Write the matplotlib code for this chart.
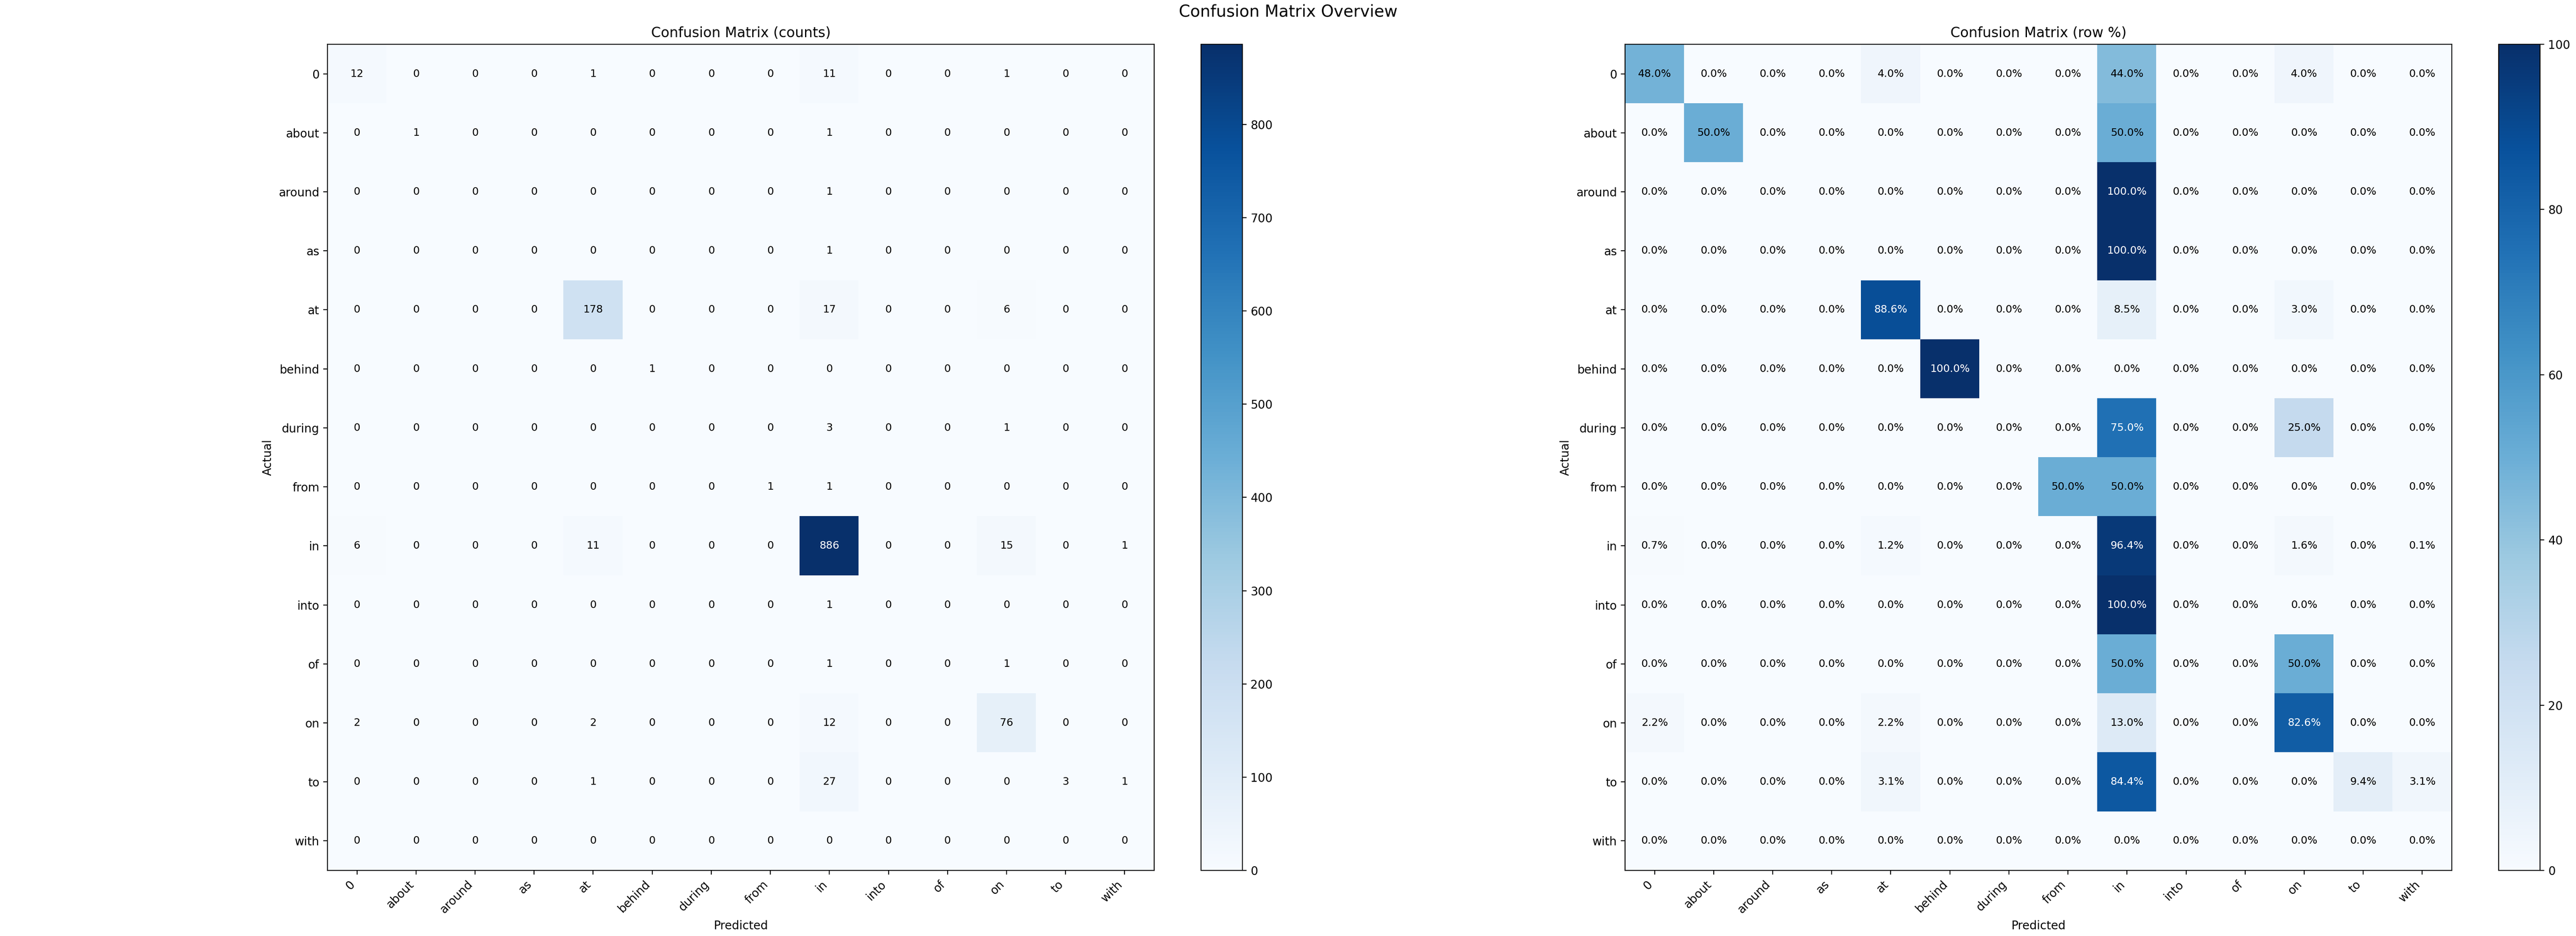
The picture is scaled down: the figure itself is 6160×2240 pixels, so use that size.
import numpy as np
import matplotlib
matplotlib.use("Agg")
import matplotlib.pyplot as plt

# class labels (actual = rows, predicted = columns)
labels = ['0', 'about', 'around', 'as', 'at', 'behind', 'during', 'from',
          'in', 'into', 'of', 'on', 'to', 'with']

# confusion matrix counts, one list per actual class
row_0      = [12, 0, 0, 0, 1, 0, 0, 0, 11, 0, 0, 1, 0, 0]
row_about  = [0, 1, 0, 0, 0, 0, 0, 0, 1, 0, 0, 0, 0, 0]
row_around = [0, 0, 0, 0, 0, 0, 0, 0, 1, 0, 0, 0, 0, 0]
row_as     = [0, 0, 0, 0, 0, 0, 0, 0, 1, 0, 0, 0, 0, 0]
row_at     = [0, 0, 0, 0, 178, 0, 0, 0, 17, 0, 0, 6, 0, 0]
row_behind = [0, 0, 0, 0, 0, 1, 0, 0, 0, 0, 0, 0, 0, 0]
row_during = [0, 0, 0, 0, 0, 0, 0, 0, 3, 0, 0, 1, 0, 0]
row_from   = [0, 0, 0, 0, 0, 0, 0, 1, 1, 0, 0, 0, 0, 0]
row_in     = [6, 0, 0, 0, 11, 0, 0, 0, 886, 0, 0, 15, 0, 1]
row_into   = [0, 0, 0, 0, 0, 0, 0, 0, 1, 0, 0, 0, 0, 0]
row_of     = [0, 0, 0, 0, 0, 0, 0, 0, 1, 0, 0, 1, 0, 0]
row_on     = [2, 0, 0, 0, 2, 0, 0, 0, 12, 0, 0, 76, 0, 0]
row_to     = [0, 0, 0, 0, 1, 0, 0, 0, 27, 0, 0, 0, 3, 1]
row_with   = [0, 0, 0, 0, 0, 0, 0, 0, 0, 0, 0, 0, 0, 0]

counts = np.array([row_0, row_about, row_around, row_as, row_at, row_behind,
                   row_during, row_from, row_in, row_into, row_of, row_on,
                   row_to, row_with], dtype=float)

# row normalised percentages (empty rows stay at 0)
row_sums = counts.sum(axis=1, keepdims=True)
percent = np.divide(counts, row_sums, out=np.zeros_like(counts),
                    where=row_sums > 0) * 100


def draw_matrix(fig, ax, cax, data, title, fmt, vmax):
    """ draw one annotated confusion matrix with its colorbar """
    im = ax.imshow(data, cmap='Blues', vmin=0, vmax=vmax,
                   interpolation='nearest', aspect='auto')
    fig.colorbar(im, cax=cax)
    n = len(labels)
    ax.set_xticks(range(n))
    ax.set_yticks(range(n))
    ax.set_xticklabels(labels, rotation=45, ha='right')
    ax.set_yticklabels(labels)
    ax.set_xlabel('Predicted')
    ax.set_ylabel('Actual')
    ax.set_title(title)

    #white text on dark cells
    thresh = vmax / 2.0
    for i in range(n):
        for j in range(n):
            v = data[i, j]
            ax.text(j, i, fmt(v), ha='center', va='center', fontsize=9,
                    color='white' if v > thresh else 'black')


fig = plt.figure(figsize=(30.8, 11.2), dpi=200)

W, H = 6160.0, 2240.0
bottom = (H - 2083) / H
side = 1977.0
ax1 = fig.add_axes([783 / W, bottom, side / W, side / H])
cax1 = fig.add_axes([2872 / W, bottom, 99 / W, side / H])
ax2 = fig.add_axes([3886 / W, bottom, side / W, side / H])
cax2 = fig.add_axes([5975 / W, bottom, 99 / W, side / H])

draw_matrix(fig, ax1, cax1, counts, 'Confusion Matrix (counts)',
            lambda v: '{:d}'.format(int(v)), counts.max())
draw_matrix(fig, ax2, cax2, percent, 'Confusion Matrix (row %)',
            lambda v: '{:.1f}%'.format(v), 100)

fig.suptitle('Confusion Matrix Overview', fontsize=14, y=1 - 39 / H,
             va='baseline')

plt.savefig('out.png', dpi=200)
